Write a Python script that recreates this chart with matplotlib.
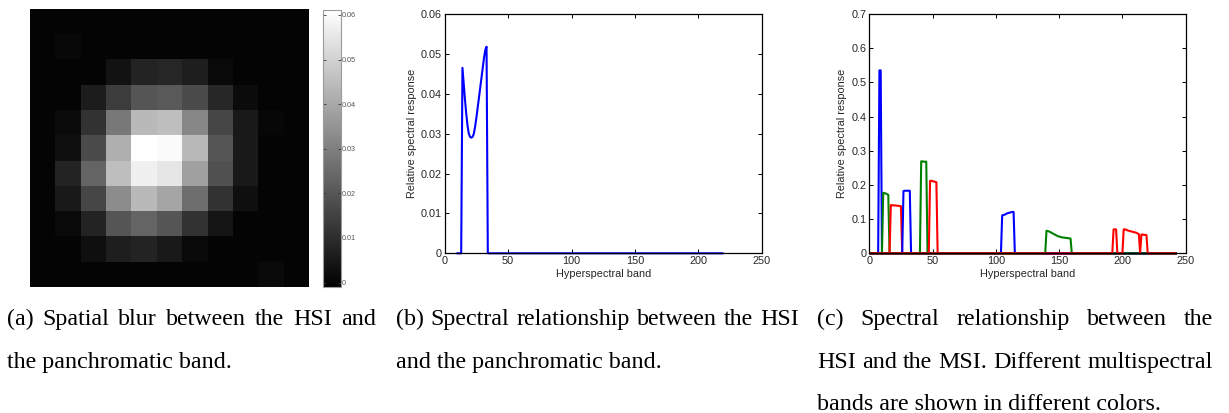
import numpy as np
import matplotlib
matplotlib.use('Agg')
import matplotlib.pyplot as plt
from matplotlib.ticker import FuncFormatter

# (a) estimated spatial blur kernel, 11 x 11
blur = [
    [0, 0, 0, 0, 0, 0, 0, 0, 0, 0, 0],
    [0, 0.0011, 0.0002, 0.0001, 0.0002, 0.0002, 0, 0, 0, 0.0002, 0],
    [0, 0, 0.0002, 0.0034, 0.0075, 0.0083, 0.0063, 0.0014, 0, 0, 0],
    [0, 0.0001, 0.0058, 0.0136, 0.0197, 0.0209, 0.0173, 0.0087, 0.0019, 0.0002, 0],
    [0, 0.0019, 0.0112, 0.0282, 0.0440, 0.0453, 0.0319, 0.0160, 0.0051, 0.0009, 0],
    [0, 0.0027, 0.0173, 0.0416, 0.0611, 0.0599, 0.0440, 0.0197, 0.0051, 0, 0],
    [0, 0.0075, 0.0234, 0.0453, 0.0574, 0.0550, 0.0380, 0.0185, 0.0051, 0, 0],
    [0, 0.0051, 0.0160, 0.0331, 0.0440, 0.0392, 0.0258, 0.0112, 0.0027, 0, 0],
    [0, 0.0014, 0.0075, 0.0197, 0.0234, 0.0197, 0.0112, 0.0039, 0.0002, 0, 0],
    [0, 0, 0.0027, 0.0063, 0.0075, 0.0051, 0.0014, 0, 0, 0.0002, 0],
    [0, 0, 0, 0.0001, 0.0002, 0.0001, 0, 0, 0.0002, 0.0014, 0.0002],
]
blur_min = -0.001
blur_max = 0.0611
cbar_ticks = [0, 0.01, 0.02, 0.03, 0.04, 0.05, 0.06]

# (b) panchromatic response, bands 10..219, non zero from band 14 to 33
pan_first, pan_last = 10, 219
pan_start = 14
pan_values = [0.0465, 0.0425, 0.0385, 0.0350, 0.0320, 0.0300, 0.0292, 0.0290,
              0.0292, 0.0300, 0.0318, 0.0340, 0.0365, 0.0390, 0.0415, 0.0440,
              0.0465, 0.0490, 0.0510, 0.0518]

# (c) multispectral responses, bands 1..242
msi_first, msi_last = 1, 242
msi_colors = ['b', 'g', 'r', 'b', 'g', 'r', 'b', 'g', 'r']
msi_starts = [8, 11, 17, 27, 41, 48, 105, 140, 193]
msi_values = [
    [0.535, 0.535],
    [0.177, 0.176, 0.175, 0.173, 0.171],
    [0.141, 0.141, 0.140, 0.140, 0.140, 0.139, 0.139, 0.138, 0.138],
    [0.182, 0.183, 0.183, 0.183, 0.183, 0.183],
    [0.269, 0.269, 0.268, 0.268, 0.268],
    [0.212, 0.212, 0.211, 0.210, 0.209, 0.208],
    [0.111, 0.112, 0.113, 0.115, 0.117, 0.118, 0.119, 0.120, 0.121, 0.121],
    [0.066, 0.065, 0.064, 0.062, 0.060, 0.058, 0.056, 0.054, 0.052, 0.050,
     0.049, 0.048, 0.047, 0.046, 0.046, 0.045, 0.045, 0.044, 0.044, 0.043],
    [0.070, 0.070, 0.070, 0, 0, 0, 0, 0,
     0.070, 0.070, 0.069, 0.067, 0.066, 0.065, 0.064, 0.063, 0.062, 0.061,
     0.060, 0.058, 0.056, 0, 0.055, 0.055, 0.054, 0.054, 0.053],
]

captions = {
    'a': ['(a) Spatial blur between the HSI and', 'the panchromatic band.'],
    'b': ['(b) Spectral relationship between the HSI', 'and the panchromatic band.'],
    'c': ['(c) Spectral relationship between the',
          'HSI and the MSI. Different multispectral',
          'bands are shown in different colors.'],
}

W, H = 1229, 413
fig = plt.figure(figsize=(W / 100.0, H / 100.0), dpi=100)

def box(x0, y0, x1, y1):
    # pixel box (top-left origin) -> figure fraction
    return [x0 / W, 1 - y1 / H, (x1 - x0) / W, (y1 - y0) / H]

lab_size = 7.8
lab_font = dict(family='Liberation Sans', size=lab_size)
txt_col = '#262626'

# ---- (a)
ax_a = fig.add_axes(box(30, 9, 308.3, 287))
im = ax_a.imshow(np.array(blur), cmap='gray', vmin=blur_min, vmax=blur_max,
                 interpolation='nearest', aspect='auto')
ax_a.set_axis_off()

cax = fig.add_axes(box(322.7, 10, 341, 287))
cb = fig.colorbar(im, cax=cax, ticks=cbar_ticks)
cb.outline.set_edgecolor('#9a9a9a')
cb.outline.set_linewidth(0.8)
cax.yaxis.set_major_formatter(FuncFormatter(lambda v, p: '%g' % v))
cax.tick_params(direction='in', left=True, right=True, length=2.5, width=0.6,
                color='#333333', labelsize=5.2, labelcolor='#555555', pad=0.5)
for lab in cax.get_yticklabels():
    lab.set_family('Liberation Sans')

# ---- (b) and (c)
def style(ax, ymax, ystep):
    ax.set_xlim(0, 250)
    ax.set_ylim(0, ymax)
    ax.set_xticks(np.arange(0, 251, 50))
    ax.set_yticks(np.arange(0, ymax + ystep / 2, ystep))
    ax.yaxis.set_major_formatter(FuncFormatter(lambda v, p: '%g' % round(v, 4)))
    ax.tick_params(direction='in', top=True, right=True, length=3, width=0.7,
                   pad=2, labelsize=lab_size, labelcolor=txt_col)
    for lab in ax.get_xticklabels() + ax.get_yticklabels():
        lab.set_family('Liberation Sans')
    for s in ax.spines.values():
        s.set_linewidth(0.9)
    ax.set_xlabel('Hyperspectral band', fontdict=lab_font, color=txt_col, labelpad=2)
    ax.set_ylabel('Relative spectral response', fontdict=lab_font, color=txt_col, labelpad=3)

ax_b = fig.add_axes(box(444.7, 14, 761.7, 253.3))
bands_b = np.arange(pan_first, pan_last + 1)
resp_b = np.zeros(len(bands_b))
i0 = pan_start - pan_first
resp_b[i0:i0 + len(pan_values)] = pan_values
ax_b.plot(bands_b, resp_b, color='b', lw=1.5, clip_on=False)
style(ax_b, 0.06, 0.01)

ax_c = fig.add_axes(box(869.3, 14, 1185.7, 253.3))
bands_c = np.arange(msi_first, msi_last + 1)
for col, st, vals in zip(msi_colors, msi_starts, msi_values):
    r = np.zeros(len(bands_c))
    i0 = st - msi_first
    r[i0:i0 + len(vals)] = vals
    ax_c.plot(bands_c, r, color={'b': (0, 0, 1), 'g': (0, 0.5, 0), 'r': (1, 0, 0)}[col],
              lw=1.5, clip_on=False)
style(ax_c, 0.7, 0.1)

# ---- captions (justified like the paper's columns)
cap_font = dict(family='Liberation Serif', size=17.3, color='black', va='baseline')
base = [325, 368, 409.5]

def justify(words, x0, x1, y):
    rend = fig.canvas.get_renderer()
    ts = [fig.text(0, y, w, **cap_font) for w in words]
    ws = [t.get_window_extent(rend).width for t in ts]
    gap = ((x1 - x0) - sum(ws)) / (len(words) - 1)
    x = x0
    for t, w in zip(ts, ws):
        t.set_x(x / W)
        x += w + gap

justify(captions['a'][0].split(), 7, 376, 1 - base[0] / H)
fig.text(7 / W, 1 - base[1] / H, captions['a'][1], **cap_font)
justify(captions['b'][0].split(), 396, 799, 1 - base[0] / H)
fig.text(396 / W, 1 - base[1] / H, captions['b'][1], **cap_font)
justify(captions['c'][0].split(), 817, 1213, 1 - base[0] / H)
justify(captions['c'][1].split(), 817, 1213, 1 - base[1] / H)
fig.text(817 / W, 1 - base[2] / H, captions['c'][2], **cap_font)

fig.savefig('out.png', dpi=100)
plt.close(fig)
